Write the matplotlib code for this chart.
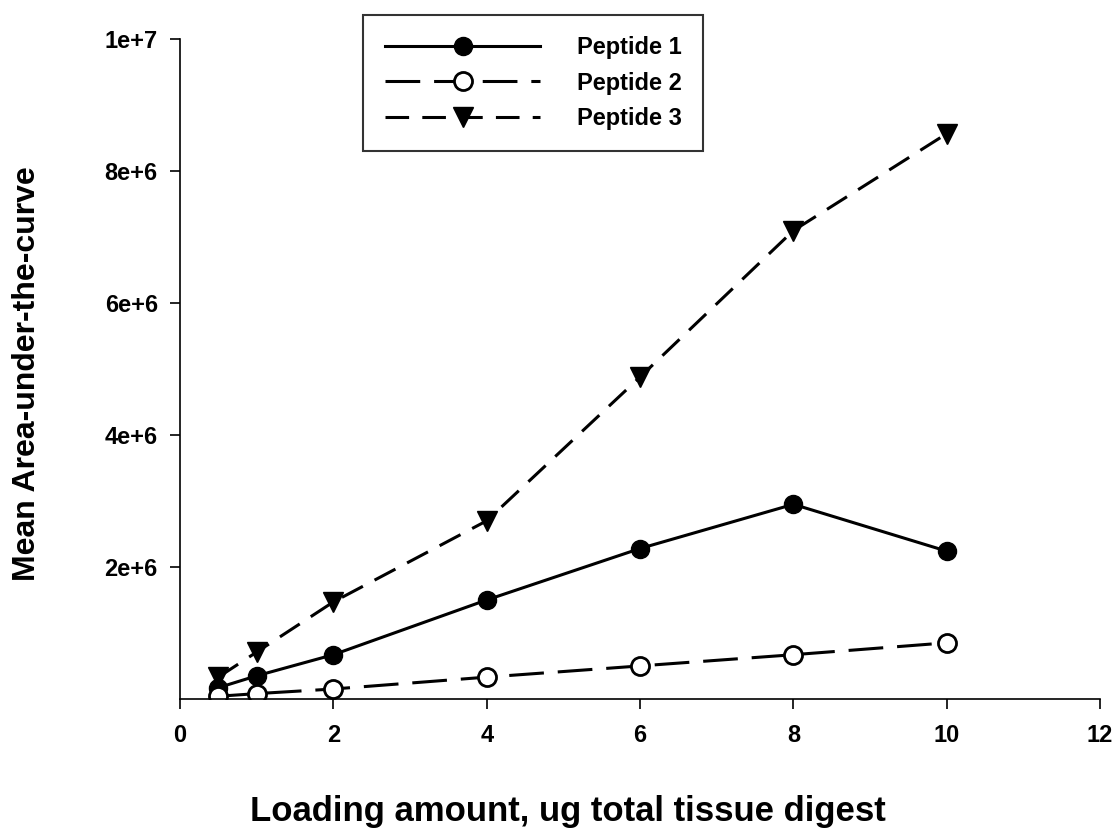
import matplotlib
matplotlib.use("Agg")
import matplotlib.pyplot as plt

plt.rcParams["font.family"] = ["Liberation Sans", "DejaVu Sans"]
plt.rcParams["font.weight"] = "bold"
plt.rcParams["lines.scale_dashes"] = False

# Loading amount (ug) and mean AUC per peptide
loading = [0.5, 1, 2, 4, 6, 8, 10]
peptide1 = [0.17e6, 0.35e6, 0.67e6, 1.50e6, 2.28e6, 2.95e6, 2.24e6]
peptide2 = [0.04e6, 0.08e6, 0.15e6, 0.33e6, 0.50e6, 0.67e6, 0.85e6]
peptide3 = [0.33e6, 0.71e6, 1.47e6, 2.70e6, 4.88e6, 7.10e6, 8.57e6]

xticks = [0, 2, 4, 6, 8, 10, 12]
yticks = [2e6, 4e6, 6e6, 8e6, 1e7]
ytick_labels = ["2e+6", "4e+6", "6e+6", "8e+6", "1e+7"]

fig = plt.figure(figsize=(11.18, 8.36), dpi=100)
ax = fig.add_axes([0.161, 0.164, 0.823, 0.789])

ax.plot(loading, peptide1, color="black", linestyle="-", linewidth=2.2,
        marker="o", markersize=13, markerfacecolor="black", label="Peptide 1")
ax.plot(loading, peptide2, color="black", linestyle=(0, (25, 10)), linewidth=2.2,
        marker="o", markersize=13, markerfacecolor="white", markeredgewidth=2,
        label="Peptide 2")
ax.plot(loading, peptide3, color="black", linestyle=(0, (17, 9.5)), linewidth=2.2,
        marker="v", markersize=14, markerfacecolor="black", label="Peptide 3")

ax.set_xlim(0, 12)
ax.set_ylim(0, 1e7)
ax.set_xticks(xticks)
ax.set_yticks(yticks)
ax.set_yticklabels(ytick_labels)
ax.tick_params(direction="out", length=7, width=1.2, labelsize=17)
ax.tick_params(axis="x", pad=11)
ax.tick_params(axis="y", pad=9)
for lbl in ax.get_xticklabels() + ax.get_yticklabels():
    lbl.set_fontweight("bold")

ax.spines["top"].set_visible(False)
ax.spines["right"].set_visible(False)
ax.spines["left"].set_linewidth(1.2)
ax.spines["bottom"].set_linewidth(1.2)

fig.text(0.508, 0.029, "Loading amount, ug total tissue digest",
         fontsize=25, fontweight="bold", ha="center", va="center")
fig.text(0.024, 0.553, "Mean Area-under-the-curve", fontsize=23,
         fontweight="bold", rotation=90, ha="center", va="center")

leg = fig.legend(loc="upper left", bbox_to_anchor=(0.325, 0.982),
                 fontsize=17, frameon=True, fancybox=False, handlelength=6.6,
                 handletextpad=1.55, numpoints=1, labelspacing=0.52,
                 borderpad=0.9, borderaxespad=0)
leg.get_frame().set_edgecolor("black")
leg.get_frame().set_linewidth(1.5)
for t in leg.get_texts():
    t.set_fontweight("bold")

fig.savefig("out.png", dpi=100)
